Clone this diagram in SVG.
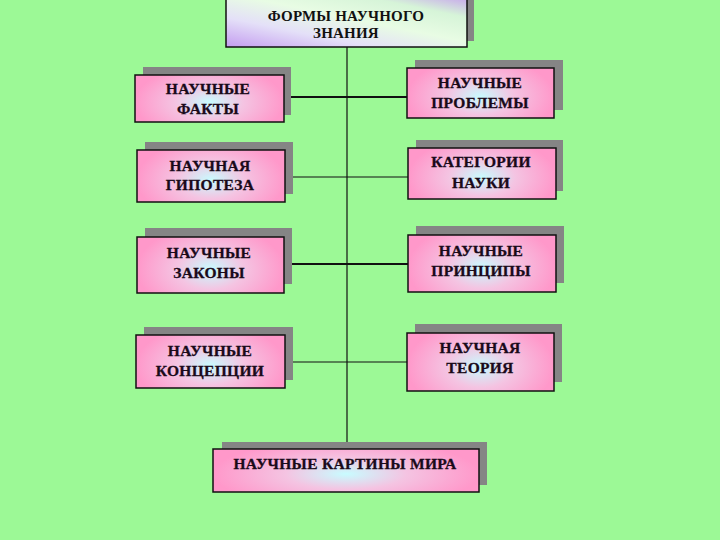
<svg xmlns="http://www.w3.org/2000/svg" width="720" height="540" viewBox="0 0 720 540">
<defs>
<radialGradient id="pink" cx="0.5" cy="0.58" r="0.5" gradientTransform="translate(0.5 0.58) scale(1 1.6) translate(-0.5 -0.58)" gradientUnits="objectBoundingBox">
<stop offset="0" stop-color="#c8fcff"/>
<stop offset="0.45" stop-color="#f4c4e2"/>
<stop offset="1" stop-color="#ff98ca"/>
</radialGradient>
<linearGradient id="title" x1="0" y1="1" x2="1" y2="0">
<stop offset="0" stop-color="#c49cf0"/>
<stop offset="0.3" stop-color="#e4e0f8"/>
<stop offset="0.55" stop-color="#e8fce4"/>
<stop offset="0.8" stop-color="#d6f4d8"/>
<stop offset="1" stop-color="#c8a8ec"/>
</linearGradient>
<style>
.sh{fill:#858585}
.bx{fill:url(#pink);stroke:#111;stroke-width:1.5}
.t{font-family:"Liberation Serif","Times New Roman",serif;font-weight:bold;font-size:15.5px;fill:#1a0a1a;text-anchor:middle;letter-spacing:0.3px;stroke:#1a0a1a;stroke-width:0.3}
.tt{font-family:"Liberation Serif","Times New Roman",serif;font-weight:bold;font-size:15px;fill:#111;text-anchor:middle;letter-spacing:0.2px}
.c{stroke:#111;fill:none}
</style>
</defs>
<rect width="720" height="540" fill="#9cf996"/>

<g id="connectors">
<line class="c" x1="347" y1="47" x2="347" y2="449" stroke-width="1.2"/>
<line class="c" x1="284" y1="97" x2="407" y2="97" stroke-width="2"/>
<line class="c" x1="285" y1="177" x2="408" y2="177" stroke-width="1.2"/>
<line class="c" x1="284" y1="264" x2="408" y2="264" stroke-width="2"/>
<line class="c" x1="285" y1="362" x2="407" y2="362" stroke-width="1.2"/>
</g>

<g id="n-title">
<rect class="sh" x="460" y="0" width="14" height="41"/>
<rect x="226" y="-2" width="241" height="49" fill="url(#title)" stroke="#111" stroke-width="1.5"/>
<text class="tt" x="346" y="21">ФОРМЫ НАУЧНОГО</text>
<text class="tt" x="346" y="38">ЗНАНИЯ</text>
</g>

<g id="n-facts">
<rect class="sh" x="143" y="67" width="148" height="48"/>
<rect class="bx" x="135" y="75" width="149" height="47"/>
<text class="t" x="208" y="94">НАУЧНЫЕ</text>
<text class="t" x="208" y="114">ФАКТЫ</text>
</g>

<g id="n-problems">
<rect class="sh" x="415" y="60" width="148" height="50"/>
<rect class="bx" x="407" y="68" width="147" height="50"/>
<text class="t" x="480" y="88">НАУЧНЫЕ</text>
<text class="t" x="480" y="108">ПРОБЛЕМЫ</text>
</g>

<g id="n-hypothesis">
<rect class="sh" x="145" y="142" width="148" height="52"/>
<rect class="bx" x="137" y="150" width="148" height="52"/>
<text class="t" x="210" y="171">НАУЧНАЯ</text>
<text class="t" x="210" y="190">ГИПОТЕЗА</text>
</g>

<g id="n-categories">
<rect class="sh" x="416" y="140" width="147" height="51"/>
<rect class="bx" x="408" y="148" width="148" height="51"/>
<text class="t" x="481" y="167">КАТЕГОРИИ</text>
<text class="t" x="481" y="188">НАУКИ</text>
</g>

<g id="n-laws">
<rect class="sh" x="145" y="228" width="147" height="56"/>
<rect class="bx" x="137" y="237" width="147" height="56"/>
<text class="t" x="209" y="258">НАУЧНЫЕ</text>
<text class="t" x="209" y="278">ЗАКОНЫ</text>
</g>

<g id="n-principles">
<rect class="sh" x="416" y="226" width="148" height="57"/>
<rect class="bx" x="408" y="235" width="148" height="57"/>
<text class="t" x="481" y="256">НАУЧНЫЕ</text>
<text class="t" x="481" y="276">ПРИНЦИПЫ</text>
</g>

<g id="n-concepts">
<rect class="sh" x="144" y="327" width="149" height="53"/>
<rect class="bx" x="136" y="335" width="149" height="53"/>
<text class="t" x="210" y="356">НАУЧНЫЕ</text>
<text class="t" x="210" y="376">КОНЦЕПЦИИ</text>
</g>

<g id="n-theory">
<rect class="sh" x="415" y="324" width="147" height="58"/>
<rect class="bx" x="407" y="333" width="147" height="58"/>
<text class="t" x="480" y="353">НАУЧНАЯ</text>
<text class="t" x="480" y="373">ТЕОРИЯ</text>
</g>

<g id="n-worldview">
<rect class="sh" x="222" y="442" width="265" height="43"/>
<rect class="bx" x="213" y="449" width="266" height="43"/>
<text class="t" x="345" y="469">НАУЧНЫЕ КАРТИНЫ МИРА</text>
</g>
</svg>
